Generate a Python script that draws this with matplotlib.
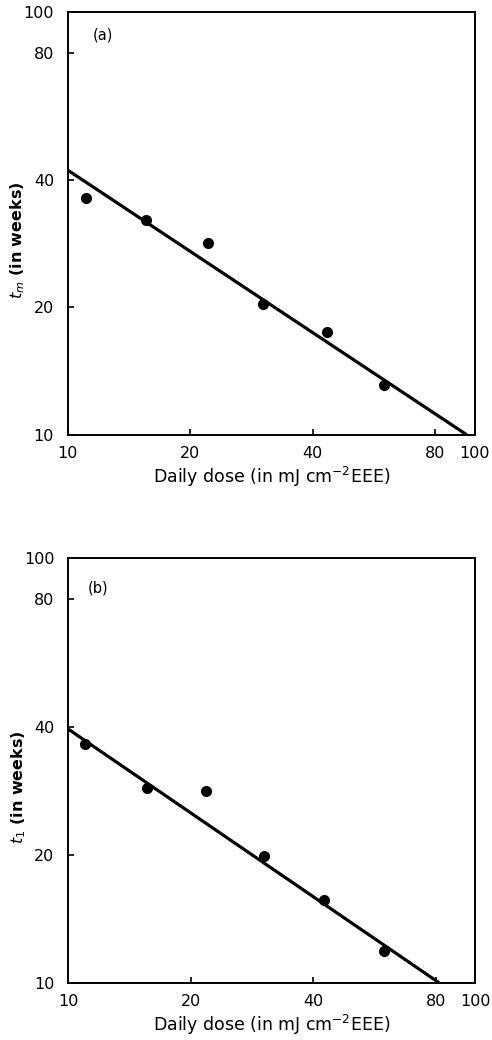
import matplotlib
matplotlib.use("Agg")
import matplotlib.pyplot as plt
from matplotlib.ticker import FixedLocator, NullLocator, FixedFormatter

# daily dose (mJ cm^-2 EEE) and measured times (weeks)
dose_a = [11.1, 15.6, 22.1, 30.2, 43.4, 59.8]
tm_weeks = [36.3, 32.1, 28.4, 20.4, 17.5, 13.1]
dose_b = [11.0, 15.6, 21.8, 30.3, 42.6, 59.7]
t1_weeks = [36.4, 28.8, 28.2, 19.9, 15.7, 11.9]

# fitted straight lines (log-log), end points
fit_x_a = [10, 95.5]
fit_y_a = [42.2, 10]
fit_x_b = [10, 81.5]
fit_y_b = [39.5, 10]

tick_vals = [10, 20, 40, 80, 100]
tick_labels = ["10", "20", "40", "80", "100"]

plt.rcParams["font.family"] = "DejaVu Sans"

fig = plt.figure(figsize=(4.92, 10.4), dpi=100)
ax_a = fig.add_axes([0.138, 0.582, 0.827, 0.4067])
ax_b = fig.add_axes([0.139, 0.055, 0.827, 0.4087])

panels = [
    (ax_a, dose_a, tm_weeks, fit_x_a, fit_y_a, r"$t_m$ (in weeks)", "(a)", (0.086, 0.946)),
    (ax_b, dose_b, t1_weeks, fit_x_b, fit_y_b, r"$t_1$ (in weeks)", "(b)", (0.072, 0.93)),
]

for ax, xs, ys, fx, fy, ylab, tag, tagpos in panels:
    ax.set_xscale("log")
    ax.set_yscale("log")
    ax.set_xlim(10, 100)
    ax.set_ylim(10, 100)
    ax.plot(fx, fy, color="black", linewidth=2.3, solid_capstyle="butt")
    ax.plot(xs, ys, "o", color="black", markersize=7)
    for axis in (ax.xaxis, ax.yaxis):
        axis.set_major_locator(FixedLocator(tick_vals))
        axis.set_major_formatter(FixedFormatter(tick_labels))
        axis.set_minor_locator(NullLocator())
    ax.tick_params(direction="in", length=4, width=1.2, labelsize=11.5)
    ax.tick_params(axis="x", pad=8)
    ax.tick_params(axis="y", pad=10)
    for sp in ax.spines.values():
        sp.set_linewidth(1.4)
    ax.set_xlabel(r"Daily dose (in mJ cm$^{-2}$EEE)", fontsize=12.5, labelpad=3)
    ax.set_ylabel(ylab, fontsize=11.5, fontweight="bold")
    ax.yaxis.set_label_coords(-0.1, 0.46)
    ax.text(tagpos[0], tagpos[1], tag, transform=ax.transAxes, fontsize=10.5,
            ha="center", va="center")

fig.savefig("out.png", dpi=100)
plt.close(fig)
